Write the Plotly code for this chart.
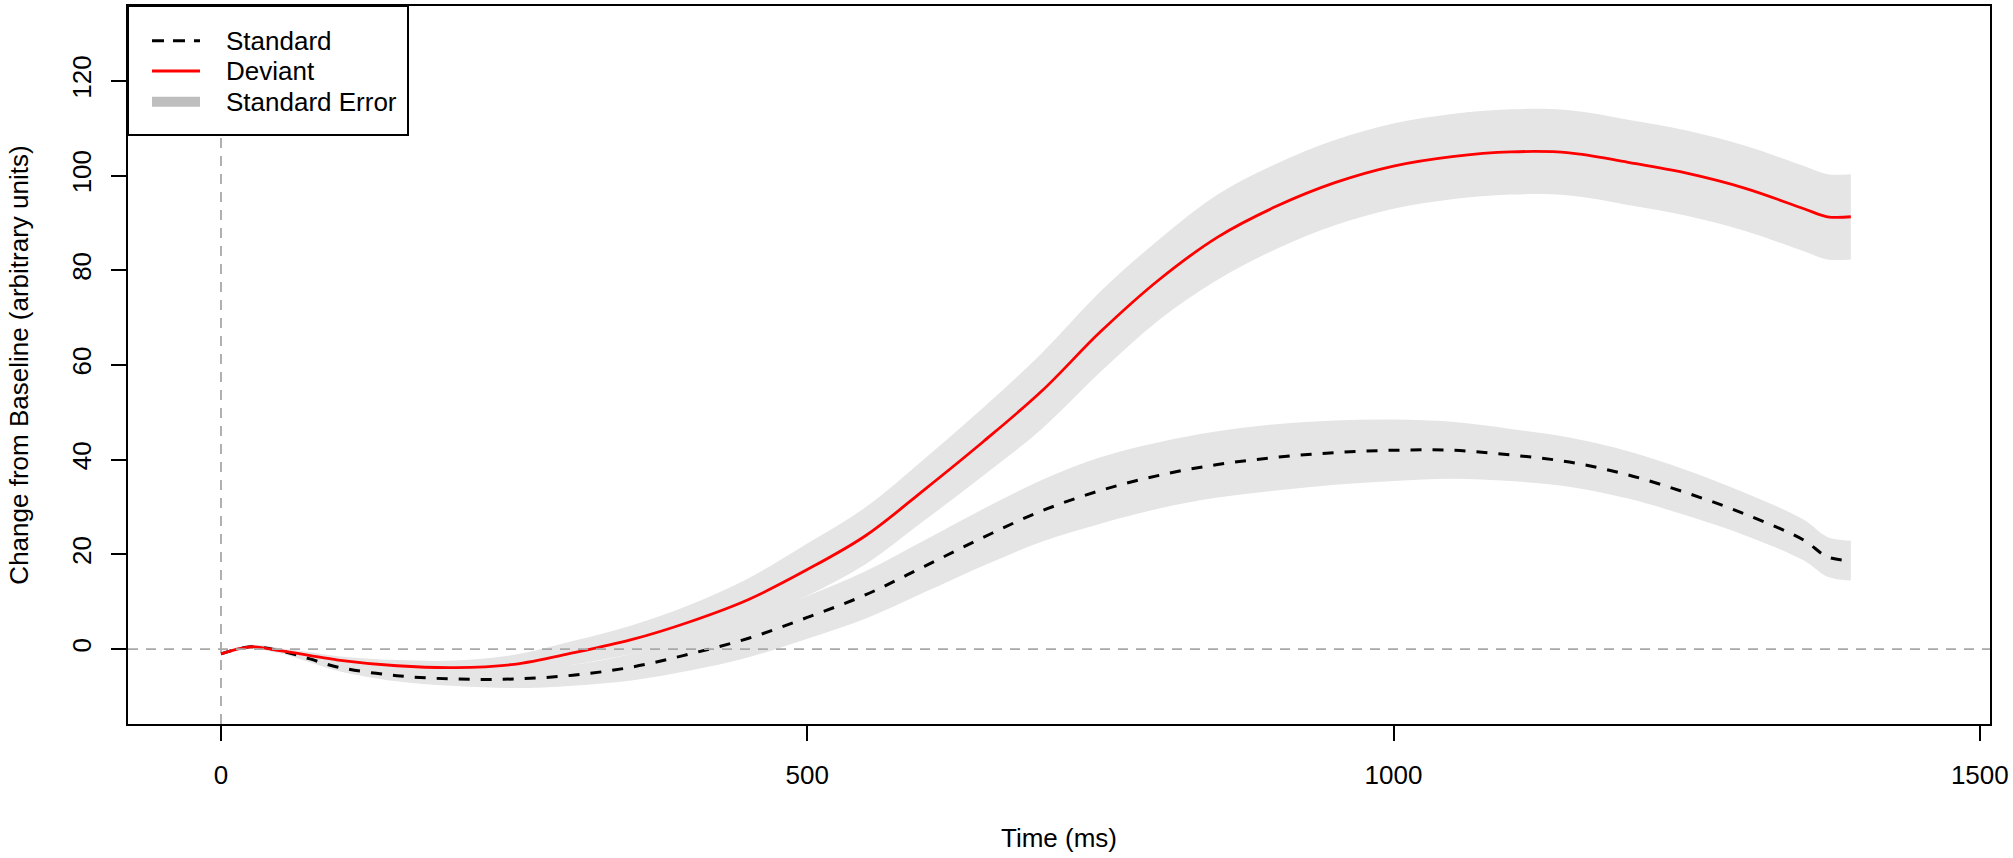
import plotly.graph_objects as go

# time points (ms)
time_ms = [0, 25, 50, 75, 100, 150, 200, 250, 300, 350, 400, 450, 500, 550,
           600, 650, 700, 750, 800, 850, 900, 950, 1000, 1050, 1100, 1150,
           1200, 1250, 1300, 1350, 1370, 1390]

standard = [-1.0, 0.5, -0.3, -2.0, -3.8, -5.6, -6.3, -6.3, -5.5, -3.8, -1.0,
            2.3, 6.7, 11.5, 17.5, 23.6, 29.2, 33.5, 36.7, 39.0, 40.5, 41.5,
            42.0, 42.0, 41.0, 39.5, 36.8, 33.0, 28.5, 23.0, 19.5, 18.7]

deviant = [-1.0, 0.5, -0.3, -1.3, -2.3, -3.5, -3.9, -3.2, -0.8, 2.0, 5.8,
           10.5, 16.8, 24.0, 33.7, 43.8, 54.5, 67.0, 78.0, 87.0, 93.5, 98.5,
           102.0, 104.0, 105.0, 104.8, 102.8, 100.5, 97.3, 93.0, 91.3, 91.3]

standard_se = [0.3, 0.4, 0.5, 0.7, 0.8, 1.2, 1.5, 1.9, 2.2, 2.8, 3.5, 4.0,
               4.5, 5.0, 5.5, 6.0, 6.5, 7.0, 7.0, 7.0, 7.0, 6.8, 6.5, 6.0,
               5.5, 5.2, 5.0, 4.8, 4.5, 4.3, 4.2, 4.2]

deviant_se = [0.3, 0.4, 0.5, 0.7, 0.8, 1.2, 1.5, 2.0, 2.5, 3.0, 3.6, 4.5,
              5.5, 6.0, 6.5, 7.2, 8.0, 8.5, 8.5, 9.0, 9.0, 9.0, 9.0, 9.0,
              9.0, 9.0, 9.0, 9.0, 9.0, 9.0, 9.0, 9.0]

x_ticks = [0, 500, 1000, 1500]
y_ticks = [0, 20, 40, 60, 80, 100, 120]

legend_names = ["Standard", "Deviant", "Standard Error"]

BAND = "#E5E5E5"
FONT = "Liberation Sans, Arial, sans-serif"
FS = 26

# page -> paper helpers (plot area is 128..1990 x, 6..724 y)
PX0, PX1, PY0, PY1 = 128, 1990, 724, 6


def px(x):
    return (x - PX0) / (PX1 - PX0)


def py(y):
    return (PY0 - y) / (PY0 - PY1)


fig = go.Figure()


def add_band(mean, se):
    upper = [m + s for m, s in zip(mean, se)]
    lower = [m - s for m, s in zip(mean, se)]
    fig.add_trace(go.Scatter(
        x=time_ms, y=lower, mode="lines", line=dict(width=0, shape="spline"),
        hoverinfo="skip", showlegend=False,
    ))
    fig.add_trace(go.Scatter(
        x=time_ms, y=upper, mode="lines", line=dict(width=0, shape="spline"),
        fill="tonexty", fillcolor=BAND, hoverinfo="skip", showlegend=False,
    ))


add_band(standard, standard_se)
add_band(deviant, deviant_se)

fig.add_trace(go.Scatter(
    x=time_ms, y=standard, mode="lines", name="Standard", showlegend=False,
    line=dict(color="black", width=3, dash="11px,11px", shape="spline"),
))
fig.add_trace(go.Scatter(
    x=time_ms, y=deviant, mode="lines", name="Deviant", showlegend=False,
    line=dict(color="red", width=2.8, shape="spline"),
))

fig.add_hline(y=0, line=dict(color="#A8A8A8", width=1.8, dash="10px,8px"), layer="above")
fig.add_vline(x=0, line=dict(color="#A8A8A8", width=1.8, dash="10px,8px"), layer="above")

# legend box drawn like R's legend()
fig.add_shape(type="rect", xref="paper", yref="paper",
              x0=0, x1=px(408), y0=py(135), y1=1,
              line=dict(color="black", width=2), fillcolor="white", layer="above")

legend_y = [40.7, 71, 101.7]
legend_styles = [
    dict(color="black", width=3, dash="12px,9px"),
    dict(color="red", width=3),
    dict(color="#BEBEBE", width=10),
]
for name, yy, style in zip(legend_names, legend_y, legend_styles):
    fig.add_shape(type="line", xref="paper", yref="paper",
                  x0=px(152), x1=px(200), y0=py(yy), y1=py(yy),
                  line=style, layer="above")
    fig.add_annotation(x=px(224), y=py(yy), xref="paper", yref="paper",
                       text=name, showarrow=False, xanchor="left",
                       yanchor="middle", font=dict(size=FS, color="black"))

axis_common = dict(
    showline=True, mirror=True, linecolor="black", linewidth=2,
    ticks="outside", ticklen=15, tickwidth=2, tickcolor="black",
    showgrid=False, zeroline=False, automargin=False,
    tickfont=dict(family=FONT, size=FS, color="black"),
)

fig.update_layout(
    width=2013,
    height=858,
    margin=dict(l=128, r=23, t=6, b=134),
    plot_bgcolor="white",
    paper_bgcolor="white",
    font=dict(family=FONT, size=FS, color="black"),
    showlegend=False,
    xaxis=dict(
        range=[-79.3, 1508.7],
        tickvals=x_ticks,
        ticklabelstandoff=12,
        title=dict(text="Time (ms)", standoff=40, font=dict(size=FS)),
        **axis_common,
    ),
    yaxis=dict(
        range=[-15.8, 135.8],
        tickvals=y_ticks,
        tickangle=-90,
        ticklabelstandoff=10,
        title=dict(text="Change from Baseline (arbitrary units)", standoff=30,
                   font=dict(size=FS)),
        **axis_common,
    ),
)

# the page body has a default 8px margin; drop it so the figure fills the window
fig.write_html("out.html", config={"displayModeBar": False},
               post_script="document.body.style.margin = '0';")
